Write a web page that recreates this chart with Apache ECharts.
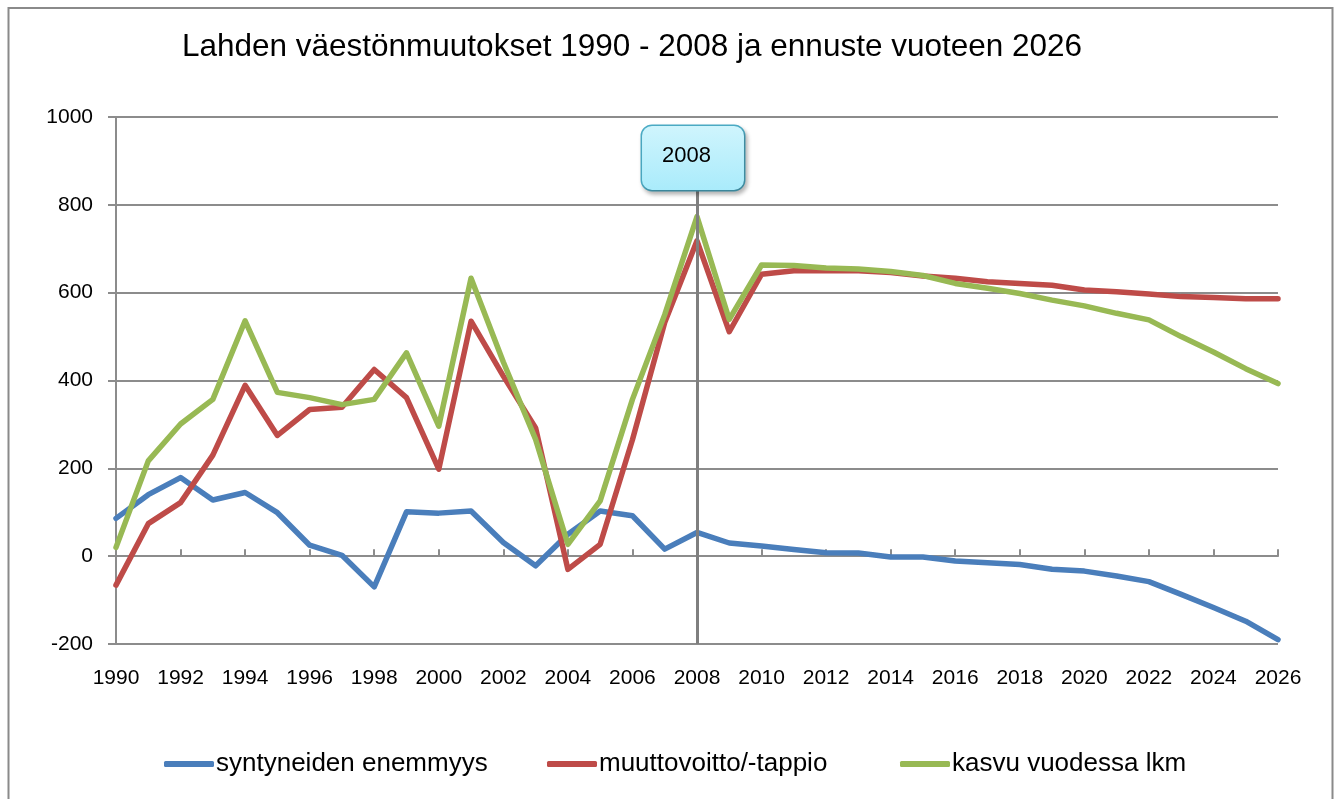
<!DOCTYPE html>
<html>
<head>
<meta charset="utf-8">
<script src="https://cdn.jsdelivr.net/npm/echarts@6/dist/echarts.min.js"></script>
<style>
html,body{margin:0;padding:0;background:#fff;}
#chart{width:1335px;height:799px;}
</style>
</head>
<body>
<div id="chart"></div>
<script>
var years = [];
for (var y = 1990; y <= 2026; y++) years.push(String(y));

var titleText = 'Lahden väestönmuutokset 1990 - 2008 ja ennuste vuoteen 2026';
var seriesNames = ['syntyneiden enemmyys', 'muuttovoitto/-tappio', 'kasvu vuodessa lkm'];

var syntyneet = [86, 140, 179, 128, 145, 99, 25, 2, -70, 101, 98,
  103, 31, -22, 50, 103, 92, 16, 54,
  30, 23, 15, 8, 7, -2, -2, -11, -15, -19, -30, -34, -45, -58, -87, -117, -148, -190];
var muutto = [-66, 74, 122, 230, 389, 275, 334, 339, 425, 361, 198,
  535, 410, 292, -30, 27, 265, 532, 718,
  511, 642, 650, 650, 650, 646, 638, 633, 625, 621, 617, 606, 602, 597, 591, 589, 586, 586];
var kasvu = [20, 217, 301, 357, 536, 373, 361, 345, 357, 463, 296,
  633, 442, 266, 27, 126, 357, 550, 773,
  539, 663, 662, 656, 654, 648, 639, 621, 610, 598, 583, 570, 553, 538, 500, 465, 427, 393];

var yTicks = {min: -200, max: 1000, interval: 200};
var markerYear = '2008';
var markerTop = 834;

var FONT = '"Liberation Sans Narrow", "Arial Narrow", "Liberation Sans", sans-serif';
var colors = ['#4a7ebb', '#be4b48', '#98b954'];

var chart = echarts.init(document.getElementById('chart'), null, {renderer: 'canvas'});

function lineSeries(name, data, color, extra) {
  var s = {
    name: name, type: 'line', data: data, showSymbol: false, symbol: 'none',
    lineStyle: {color: color, width: 5.5, cap: 'round', join: 'round'},
    itemStyle: {color: color}, xAxisIndex: 0, yAxisIndex: 0, animation: false
  };
  if (extra) for (var k in extra) s[k] = extra[k];
  return s;
}

function legendItem(name, left) {
  return {
    bottom: 22, left: left, padding: 0, itemWidth: 50, itemHeight: 6, icon: 'roundRect',
    textStyle: {fontFamily: FONT, fontSize: 26, color: '#000', padding: [0, 0, 0, -3]},
    data: [name]
  };
}

var option = {
  backgroundColor: '#fff',
  animation: false,
  title: {
    text: titleText, left: 627, top: 26, textAlign: 'center',
    textStyle: {fontFamily: FONT, fontSize: 31.5, fontWeight: 'normal', color: '#000'}
  },
  legend: [
    legendItem(seriesNames[0], 164),
    legendItem(seriesNames[1], 547),
    legendItem(seriesNames[2], 900)
  ],
  grid: {left: 116, right: 57, top: 117, bottom: 155, containLabel: false},
  xAxis: [{
    type: 'category', data: years, boundaryGap: false, position: 'bottom',
    axisLine: {show: false, onZero: false},
    axisTick: {show: false},
    axisLabel: {interval: 1, margin: 24, fontFamily: FONT, fontSize: 21, color: '#000'},
    splitLine: {show: false}
  }, {
    type: 'category', data: years, boundaryGap: false, position: 'bottom',
    axisLine: {show: true, onZero: true, lineStyle: {color: '#8c8c8c', width: 2}},
    axisTick: {show: true, inside: true, length: 7, interval: 1, lineStyle: {color: '#8c8c8c', width: 2}},
    axisLabel: {show: false},
    splitLine: {show: false}
  }],
  yAxis: {
    type: 'value', min: yTicks.min, max: yTicks.max, interval: yTicks.interval,
    axisLine: {show: true, lineStyle: {color: '#8c8c8c', width: 2}},
    axisTick: {show: true, length: 8, lineStyle: {color: '#8c8c8c', width: 2}},
    axisLabel: {margin: 23, fontFamily: FONT, fontSize: 21, color: '#000',
      formatter: function (v) { return String(v); }},
    splitLine: {show: true, lineStyle: {color: '#8c8c8c', width: 2}}
  },
  graphic: [{
    type: 'rect', silent: true, z: -1,
    shape: {x: 8.5, y: 8, width: 1324, height: 820},
    style: {fill: 'none', stroke: '#8a8a8a', lineWidth: 2}
  }],
  series: [
    lineSeries(seriesNames[0], syntyneet, colors[0]),
    lineSeries(seriesNames[1], muutto, colors[1]),
    lineSeries(seriesNames[2], kasvu, colors[2], {
      markLine: {
        silent: true, symbol: 'none', animation: false,
        lineStyle: {color: '#7f7f7f', width: 3, type: 'solid'},
        label: {
          show: true, position: 'start', distance: 0, formatter: markerYear,
          offset: [-4, 0],
          fontFamily: FONT, fontSize: 22, color: '#000',
          backgroundColor: {
            type: 'linear', x: 0, y: 0, x2: 0, y2: 1,
            colorStops: [{offset: 0, color: '#d0f5fd'}, {offset: 1, color: '#a9ebfb'}]
          },
          borderColor: '#4bacc6', borderWidth: 1.5, borderRadius: 10,
          padding: [19, 33, 23, 20],
          shadowColor: 'rgba(0,0,0,0.25)', shadowBlur: 4, shadowOffsetX: 2, shadowOffsetY: 3
        },
        data: [[{coord: [markerYear, markerTop]}, {coord: [markerYear, yTicks.min]}]]
      }
    })
  ]
};
chart.setOption(option);
</script>
</body>
</html>
